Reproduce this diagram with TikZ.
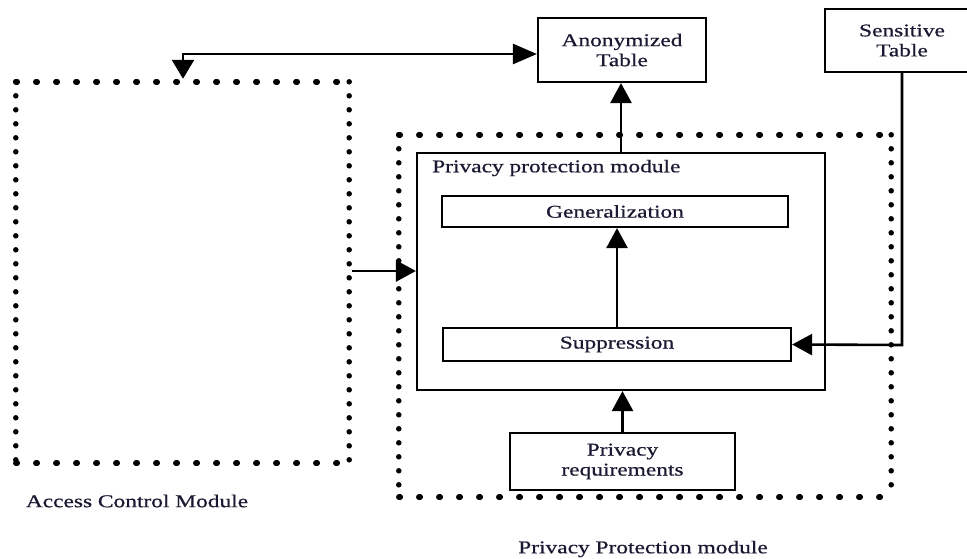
\documentclass[tikz,border=0pt]{standalone}
\usepackage{fontspec}
\setmainfont{Liberation Serif}[FakeStretch=1.3,FakeBold=0.6]
\usetikzlibrary{arrows.meta,calc}
\definecolor{txt}{RGB}{25,25,50}
\begin{document}
\begin{tikzpicture}[x=1pt,y=-1pt,
  lbl/.style={font=\fontsize{18}{20}\selectfont,text=txt},
  box/.style={draw,line width=2.2pt,inner sep=0pt,align=center,font=\fontsize{18}{20}\selectfont,text=txt},
  hdots/.style={line width=5.5pt,line cap=round,dash pattern=on 1.5pt off 18.5pt},
  vdots/.style={line width=5.5pt,line cap=round,dash pattern=on 0pt off 14pt},
  arr/.style={line width=2.6pt,-{Triangle[length=20pt,width=21pt]}},
  darr/.style={line width=2.6pt,{Triangle[length=19pt,width=22pt]}-{Triangle[length=24pt,width=20pt]}}]
\useasboundingbox (0,0) rectangle (967,559);
\clip (0,0) rectangle (967,559);
% dotted module boxes
\node[minimum width=333pt,minimum height=381pt,inner sep=0pt] (acm) at (182.5,272.5) {};
\node[minimum width=492pt,minimum height=362pt,inner sep=0pt] (ppm) at (645,316) {};
\foreach \n in {acm,ppm}{
  \draw[hdots] (\n.north west) -- (\n.north east);
  \draw[hdots] (\n.south west) -- (\n.south east);
  \draw[vdots] (\n.north west) -- (\n.south west);
  \draw[vdots] (\n.north east) -- (\n.south east);
}
\node[box,minimum width=408pt,minimum height=237pt] (inner) at (621,271.5) {};
\node[box,minimum width=346pt,minimum height=31pt] (gen) at (615,211.5) {Generalization};
\node[box,minimum width=348pt,minimum height=33pt] (sup) at (617,344.5) {Suppression};
\node[box,minimum width=225pt,minimum height=57pt] (req) at (622.5,461.5) {Privacy\\requirements};
\node[box,minimum width=168pt,minimum height=64pt] (anon) at (622,50) {Anonymized\\Table};
\node[box,minimum width=154pt,minimum height=63pt] (sens) at (902,40.5) {Sensitive\\Table};
\node[lbl,anchor=west,inner sep=0pt] (ptitle) at (432,168) {Privacy protection module};
\node[lbl,inner sep=0pt] (acml) at (137,501) {Access Control Module};
\node[lbl,inner sep=0pt] (ppml) at (643,549) {Privacy Protection module};
\coordinate (c1) at (183,54);
\coordinate (sc) at (902,345);
\draw[darr] ($(acm.north -| c1)+(0,-3)$) -- (c1) -- (c1 -| anon.west);
\draw[arr] (inner.north) -- (inner.north |- anon.south);
\draw[arr] (sup.north) -- (sup.north |- gen.south);
\draw[arr] (req.north) -- (req.north |- inner.south);
\draw[arr] (sens.south -| sc) -- (sc) -- (sup.east);
\draw[arr] ($(acm.east |- 0,271)+(3,0)$) -- (inner.west |- 0,271);
\end{tikzpicture}
\end{document}
